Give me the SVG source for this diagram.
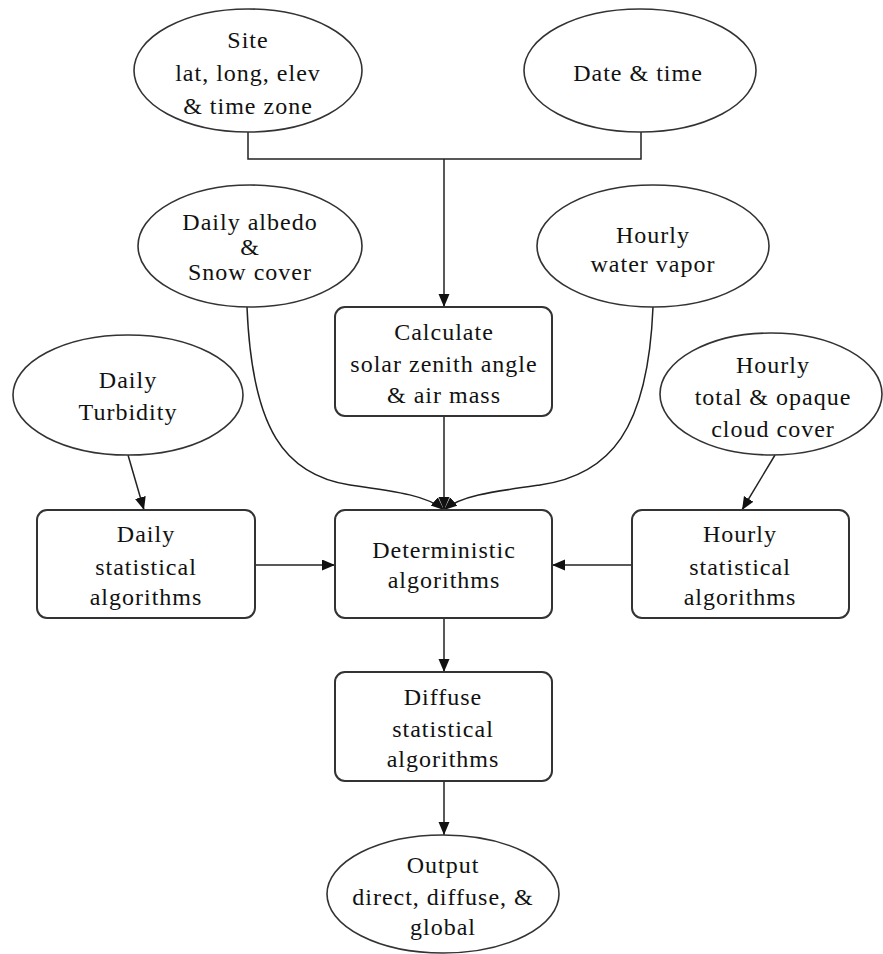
<svg xmlns="http://www.w3.org/2000/svg" width="883" height="954" viewBox="0 0 883 954">
<style>
.n{fill:#fff;stroke:#333;stroke-width:1.6}
.b{fill:#fff;stroke:#333;stroke-width:2}
.e{fill:none;stroke:#222;stroke-width:1.5}
text{font-family:"Liberation Serif","Times New Roman",serif;font-size:24px;fill:#111;text-anchor:middle;letter-spacing:1px}
</style>
<defs>
<marker id="ah" markerUnits="userSpaceOnUse" markerWidth="14" markerHeight="12" refX="13" refY="5.5" orient="auto">
<path d="M0,0 L13,5.5 L0,11 z" fill="#111"/>
</marker>
</defs>
<rect width="883" height="954" fill="#fff"/>
<g id="connectors">
<path class="e" d="M248,132 V159 H641 V132"/>
<path class="e" d="M444,159 V307" marker-end="url(#ah)"/>
<path class="e" d="M444,416 V510" marker-end="url(#ah)"/>
<path class="e" d="M247,307 C252,430 285,475 350,485 C400,492 428,496 444,510" marker-end="url(#ah)"/>
<path class="e" d="M653,307 C648,430 610,475 540,485 C490,492 460,496 444,510" marker-end="url(#ah)"/>
<path class="e" d="M128,455 L144,510" marker-end="url(#ah)"/>
<path class="e" d="M775,455 L742,510" marker-end="url(#ah)"/>
<path class="e" d="M255,565 H335" marker-end="url(#ah)"/>
<path class="e" d="M632,565 H552" marker-end="url(#ah)"/>
<path class="e" d="M444,618 V672" marker-end="url(#ah)"/>
<path class="e" d="M444,781 V835" marker-end="url(#ah)"/>
</g>
<g id="site">
<ellipse class="n" cx="248" cy="70.5" rx="114" ry="61.5"/>
<text x="248" y="48">Site</text>
<text x="248" y="81">lat, long, elev</text>
<text x="248" y="114">&amp; time zone</text>
</g>
<g id="datetime">
<ellipse class="n" cx="640" cy="70.5" rx="116" ry="61.5"/>
<text x="638" y="81">Date &amp; time</text>
</g>
<g id="albedo">
<ellipse class="n" cx="250" cy="246" rx="112" ry="61"/>
<text x="250" y="230">Daily albedo</text>
<text x="250" y="255">&amp;</text>
<text x="250" y="280">Snow cover</text>
</g>
<g id="watervapor">
<ellipse class="n" cx="653" cy="246" rx="116" ry="61"/>
<text x="653" y="243">Hourly</text>
<text x="653" y="272">water vapor</text>
</g>
<g id="calculate">
<rect class="b" x="335" y="307" width="217" height="109" rx="10"/>
<text x="444" y="340">Calculate</text>
<text x="444" y="372">solar zenith angle</text>
<text x="444" y="403">&amp; air mass</text>
</g>
<g id="turbidity">
<ellipse class="n" cx="128" cy="395" rx="115" ry="60"/>
<text x="128" y="388">Daily</text>
<text x="128" y="420">Turbidity</text>
</g>
<g id="cloudcover">
<ellipse class="n" cx="771" cy="394" rx="111" ry="61"/>
<text x="773" y="373">Hourly</text>
<text x="773" y="405">total &amp; opaque</text>
<text x="773" y="437">cloud cover</text>
</g>
<g id="dailystat">
<rect class="b" x="37" y="510" width="218" height="108" rx="10"/>
<text x="146" y="542">Daily</text>
<text x="146" y="575">statistical</text>
<text x="146" y="605">algorithms</text>
</g>
<g id="deterministic">
<rect class="b" x="335" y="510" width="217" height="108" rx="10"/>
<text x="444" y="558">Deterministic</text>
<text x="444" y="588">algorithms</text>
</g>
<g id="hourlystat">
<rect class="b" x="632" y="510" width="217" height="108" rx="10"/>
<text x="740" y="542">Hourly</text>
<text x="740" y="575">statistical</text>
<text x="740" y="605">algorithms</text>
</g>
<g id="diffuse">
<rect class="b" x="335" y="672" width="217" height="109" rx="10"/>
<text x="443" y="705">Diffuse</text>
<text x="443" y="737">statistical</text>
<text x="443" y="767">algorithms</text>
</g>
<g id="output">
<ellipse class="n" cx="443" cy="894" rx="116" ry="59"/>
<text x="443" y="873">Output</text>
<text x="443" y="905">direct, diffuse, &amp;</text>
<text x="443" y="935">global</text>
</g>
</svg>
